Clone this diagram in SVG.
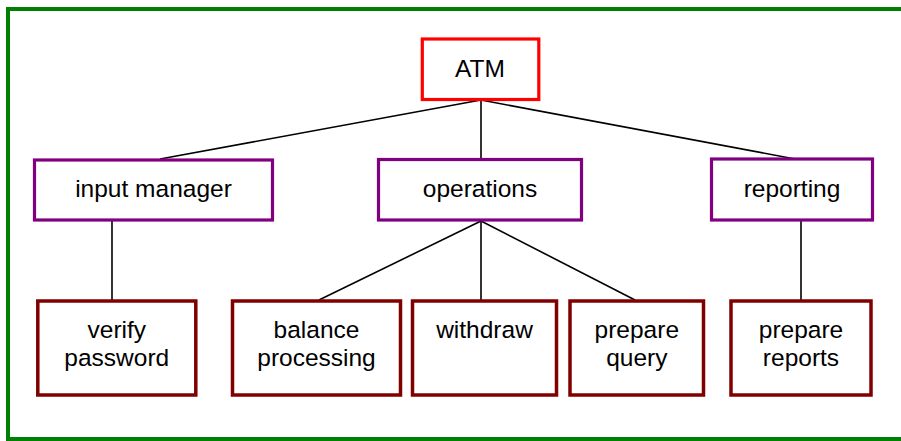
<svg xmlns="http://www.w3.org/2000/svg" width="901" height="441" viewBox="0 0 901 441">
  <style>
    .frame { fill: #ffffff; stroke: #008000; stroke-width: 4; }
    .root { fill: #ffffff; stroke: #ff0000; stroke-width: 3.2; }
    .mid { fill: #ffffff; stroke: #800080; stroke-width: 3.2; }
    .leaf { fill: #ffffff; stroke: #800000; stroke-width: 3.5; }
    .link { stroke: #000000; stroke-width: 1.6; fill: none; }
    text { font-family: "Liberation Sans", Arial, sans-serif; font-size: 24.5px; fill: #000000; text-anchor: middle; }
  </style>

  <!-- outer frame -->
  <rect class="frame" x="8" y="9" width="900" height="430"/>

  <!-- tree edges -->
  <g id="connectors">
    <line class="link" x1="481" y1="100" x2="160" y2="159"/>
    <line class="link" x1="481" y1="100" x2="481" y2="159"/>
    <line class="link" x1="481" y1="100" x2="795" y2="159"/>
    <line class="link" x1="112" y1="221" x2="112" y2="300"/>
    <line class="link" x1="481" y1="221" x2="319" y2="300"/>
    <line class="link" x1="481" y1="221" x2="481" y2="300"/>
    <line class="link" x1="481" y1="221" x2="635" y2="300"/>
    <line class="link" x1="801" y1="221" x2="801" y2="300"/>
  </g>

  <g id="atm">
    <rect class="root" x="422.3" y="39" width="116.5" height="60.5"/>
    <text x="480" y="77">ATM</text>
  </g>

  <g id="input-manager">
    <rect class="mid" x="34.5" y="160" width="238" height="60"/>
    <text x="153.5" y="197">input manager</text>
  </g>

  <g id="operations">
    <rect class="mid" x="378.5" y="159.5" width="203" height="60.5"/>
    <text x="480" y="197">operations</text>
  </g>

  <g id="reporting">
    <rect class="mid" x="711.5" y="159" width="161" height="61"/>
    <text x="792" y="197">reporting</text>
  </g>

  <g id="verify-password">
    <rect class="leaf" x="37.8" y="301" width="158" height="94"/>
    <text x="116.8" y="338">verify</text>
    <text x="116.8" y="366">password</text>
  </g>

  <g id="balance-processing">
    <rect class="leaf" x="232.5" y="301" width="168" height="94"/>
    <text x="316.5" y="338">balance</text>
    <text x="316.5" y="366">processing</text>
  </g>

  <g id="withdraw">
    <rect class="leaf" x="412.5" y="301" width="144" height="94"/>
    <text x="484.5" y="338">withdraw</text>
  </g>

  <g id="prepare-query">
    <rect class="leaf" x="570" y="301" width="133.5" height="94"/>
    <text x="636.8" y="338">prepare</text>
    <text x="636.8" y="366">query</text>
  </g>

  <g id="prepare-reports">
    <rect class="leaf" x="731" y="301" width="140" height="94"/>
    <text x="801" y="338">prepare</text>
    <text x="801" y="366">reports</text>
  </g>
</svg>
